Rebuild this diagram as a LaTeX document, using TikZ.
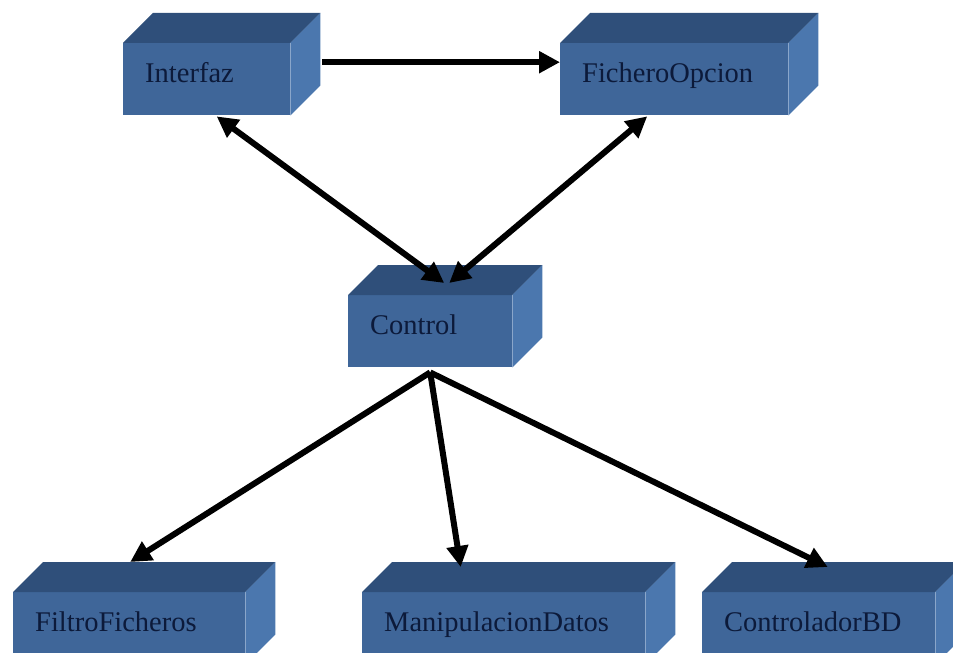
\documentclass[tikz,border=0pt]{standalone}
\usepackage{fontspec}
\setmainfont{Liberation Serif}
\usetikzlibrary{arrows.meta}

\definecolor{frontblue}{HTML}{3F6699}
\definecolor{topblue}{HTML}{2F4F7A}
\definecolor{sideblue}{HTML}{4B77AE}
\definecolor{labelnavy}{HTML}{0C1A3A}

\tikzset{
  module/.style={anchor=north west, fill=frontblue, inner xsep=22bp, inner ysep=0pt,
    text height=39bp, text depth=33bp, align=left, text=labelnavy,
    font=\fontsize{28.5bp}{30bp}\selectfont},
  topface/.style={fill=topblue},
  sideface/.style={fill=sideblue},
  link/.style={line width=6bp, draw=black, -{Triangle[length=21bp,width=21bp]}},
  biglink/.style={line width=6bp, draw=black,
    {Triangle[length=21bp,width=21bp]}-{Triangle[length=21bp,width=21bp]}}
}

% top and right faces of a block whose front face is node #1
\newcommand{\blockfaces}[1]{%
  \fill[topface] (#1.north west) -- ++(30,-30) -- ([shift={(30,-30)}]#1.north east)
    -- (#1.north east) -- cycle;
  \fill[sideface] (#1.north east) -- ++(30,-30) -- ([shift={(30,-30)}]#1.south east)
    -- (#1.south east) -- cycle;
}

\begin{document}
\begin{tikzpicture}[x=1bp, y=-1bp]
  \useasboundingbox (0,0) rectangle (953,653);
  \clip (0,0) rectangle (953,653);

  % front faces
  \node[module, text width=123bp] (ifz) at (123,43) {Interfaz};
  \node[module, text width=184bp] (fop) at (560,43) {FicheroOpcion};
  \node[module, text width=120bp] (ctl) at (348,295) {Control};
  \node[module, text width=188bp] (flt) at (13,592) {FiltroFicheros};
  \node[module, text width=239bp] (mdt) at (362,592) {ManipulacionDatos};
  \node[module, text width=189bp] (cbd) at (702,592) {ControladorBD};

  \blockfaces{ifz}
  \blockfaces{fop}
  \blockfaces{ctl}
  \blockfaces{flt}
  \blockfaces{mdt}
  \blockfaces{cbd}

  % connectors
  \draw[link] ([shift={(32,-17)}]ifz.east) -- ([shift={(0,-17)}]fop.west);
  \draw[biglink] ([shift={(10,1)}]ifz.south) -- ([shift={(14,-12)}]ctl.north);
  \draw[biglink] ([shift={(-27,1)}]fop.south) -- ([shift={(19,-12)}]ctl.north);
  \draw[link] ([shift={(0,5)}]ctl.south) -- ([shift={(1,-30)}]flt.north);
  \draw[link] ([shift={(0,5)}]ctl.south) -- ([shift={(-43,-25)}]mdt.north);
  \draw[link] ([shift={(0,5)}]ctl.south) -- ([shift={(9,-25)}]cbd.north);
\end{tikzpicture}
\end{document}
